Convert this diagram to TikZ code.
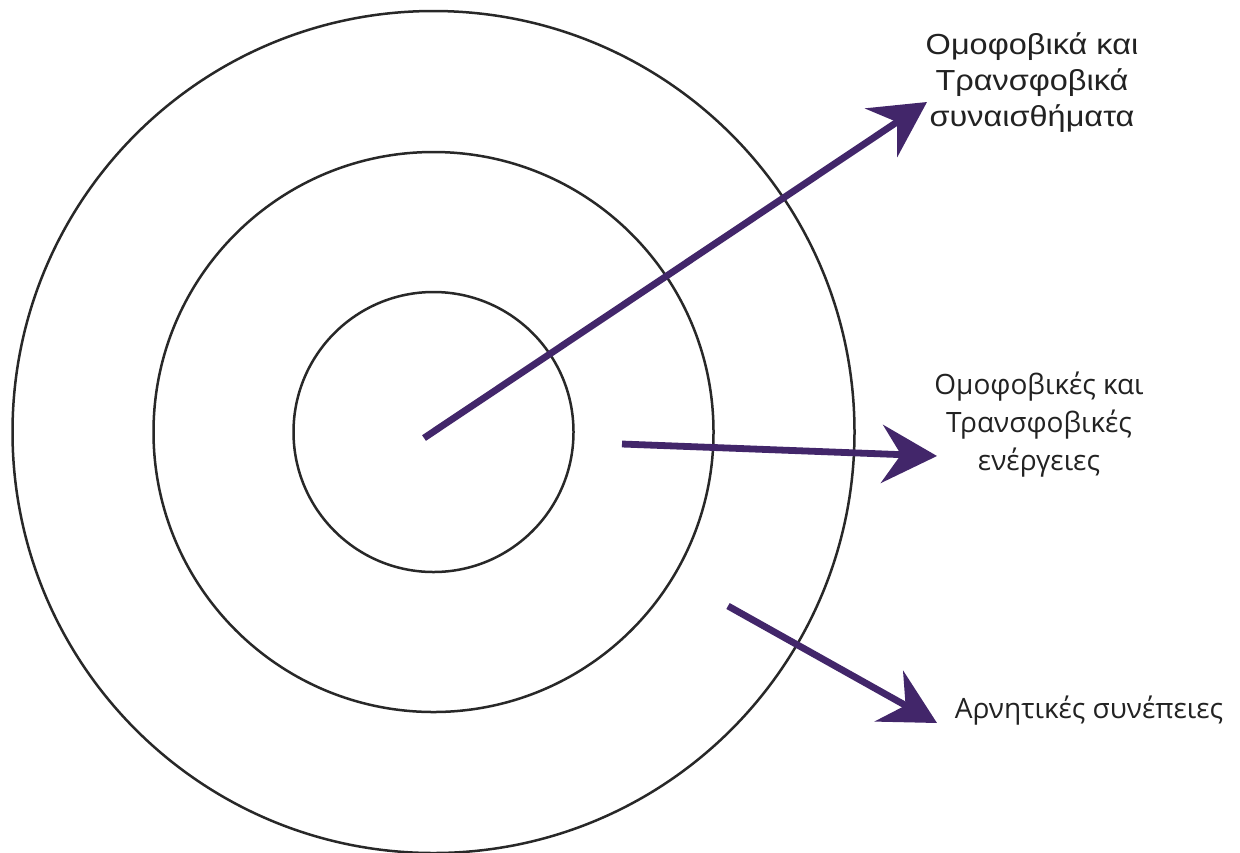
\documentclass[tikz,border=0pt]{standalone}
\usepackage{fontspec}
\setmainfont{Open Sans}
\newfontfamily\arialfont[FakeStretch=1.12]{Liberation Sans}
\usetikzlibrary{arrows.meta}
\definecolor{arrowpurple}{RGB}{66,38,106}
\definecolor{ringgray}{RGB}{40,40,40}
\definecolor{txtgray}{RGB}{34,34,34}
\tikzset{
  ring/.style={circle, draw=ringgray, line width=1.25pt, inner sep=0pt, minimum size=#1},
  bigarrow/.style={draw=arrowpurple, line width=3.4pt, line cap=butt,
    -{Stealth[length=27.5pt, width=29pt, inset=9.5pt, fill=arrowpurple]}},
  lbl/.style={text=txtgray, align=center, inner sep=0pt},
}
\begin{document}
\begin{tikzpicture}[x=0.5pt, y=-0.5pt]
\useasboundingbox (0,0) rectangle (1240,852);
\fill[white] (0,0) rectangle (1240,852);
\coordinate (c) at (433.5,432);
\node[ring=842pt*0.5] (outer) at (c) {};
\node[ring=560pt*0.5] (middle) at (c) {};
\node[ring=280pt*0.5] (inner) at (c) {};

\coordinate (s1) at (424,438);
\coordinate (t1) at (927,102);
\coordinate (s2) at (622,444);
\coordinate (t2) at (937,456);
\coordinate (s3) at (728,606);
\coordinate (t3) at (937,723);

\draw[bigarrow] (s1) -- (t1);
\draw[bigarrow] (s2) -- (t2);
\draw[bigarrow] (s3) -- (t3);

\node[lbl, font={\arialfont\fontsize{14.5}{18}\selectfont}] (feel) at (1032,83)
  {Ομοφοβικά και\\Τρανσφοβικά\\συναισθήματα};
\node[lbl, font={\fontsize{14}{19}\selectfont}] (act) at (1039,425)
  {Ομοφοβικές και\\Τρανσφοβικές\\ενέργειες};
\node[lbl, font={\fontsize{14}{19}\selectfont}] (cons) at (1089,711)
  {Αρνητικές συνέπειες};
\end{tikzpicture}
\end{document}
